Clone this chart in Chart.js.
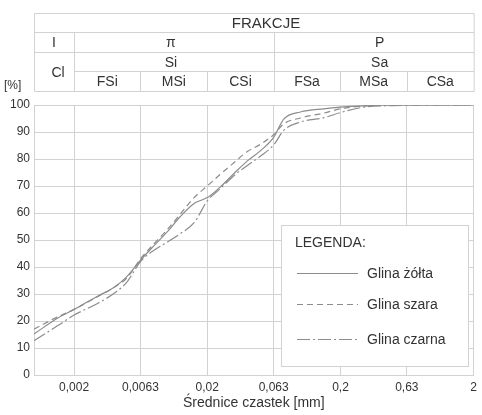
<!DOCTYPE html>
<html>
<head>
<meta charset="utf-8">
<script src="https://cdn.jsdelivr.net/npm/chart.js@4/dist/chart.umd.min.js"></script>
<style>
  html, body { margin: 0; padding: 0; background: #fff; }
  #wrap { width: 482px; height: 415px; }
</style>
</head>
<body>
<div id="wrap"><canvas id="chartUziarnienie"></canvas></div>
<script>
// srednice [mm]
var srednice = [0.001, 0.0015, 0.002, 0.003, 0.004, 0.005, 0.0063, 0.008, 0.01, 0.0125, 0.016, 0.02,
                0.025, 0.032, 0.04, 0.05, 0.063, 0.075, 0.1, 0.15, 0.2, 0.3, 0.5, 1, 2];

// przechodzi [%]
var glinaZolta  = [15.2, 21, 24.3, 29.2, 32.5, 36.5, 42.5, 48, 53, 58.6, 63.6, 65.7,
                   69.6, 74.8, 79.3, 83, 88, 94.8, 97.4, 98.6, 99.2, 99.7, 100, 100, 100];
var glinaSzara  = [17, 21.5, 24.3, 29, 32.5, 36, 43, 48.7, 53.8, 59.5, 65.8, 70,
                   74.3, 78.8, 82.8, 85.4, 89, 93, 95.2, 97, 98.6, 99.6, 100, 100, 100];
var glinaCzarna = [12.7, 18.2, 22.2, 26.5, 30.3, 34.5, 42, 46.3, 49.2, 52.3, 56.5, 64.5,
                   69, 74, 77.6, 81, 85.2, 90.6, 93.7, 95.3, 97.2, 99.2, 99.8, 100, 100];

var nazwy = ["Glina żółta", "Glina szara", "Glina czarna"];

var osXTicks = [0.002, 0.0063, 0.02, 0.063, 0.2, 0.63, 2];
var osYTicks = [0, 10, 20, 30, 40, 50, 60, 70, 80, 90, 100];

// tabela frakcji
var frakcjeTytul = "FRAKCJE";
var frakcjeGlowne = ["I", "π", "P"];
var frakcjeSrednie = ["Cl", "Si", "Sa"];
var frakcjeDrobne = ["FSi", "MSi", "CSi", "FSa", "MSa", "CSa"];
var granice = [0.001, 0.002, 0.0063, 0.02, 0.063, 0.2, 0.63, 2];

function punkty(wartosci) {
    return srednice.map(function (d, i) { return { x: d, y: wartosci[i] }; });
}

var kolorTekstu = '#333';
var kolorSiatki = '#d2d2d2';
var czcionka = "'Liberation Sans', Arial, sans-serif";

var tabelaPlugin = {
    id: 'tabela',
    afterDraw: function (chart) {
        var c = chart.ctx;
        var sx = chart.scales.x;
        var px = function (v) { return Math.round(sx.getPixelForValue(v)) + 0.5; };
        var L = chart.chartArea.left + 0.5, R = chart.chartArea.right + 0.5;
        var y0 = 13.5, y1 = 32.5, y2 = 52.5, y3 = 71.5, y4 = 91.5;

        c.save();
        c.strokeStyle = kolorSiatki;
        c.lineWidth = 1;
        c.beginPath();
        c.rect(L, y0, R - L, y4 - y0);
        c.moveTo(L, y1); c.lineTo(R, y1);
        c.moveTo(L, y2); c.lineTo(R, y2);
        c.moveTo(px(granice[1]), y3); c.lineTo(R, y3);
        c.moveTo(px(granice[1]), y1); c.lineTo(px(granice[1]), y4);
        c.moveTo(px(granice[4]), y1); c.lineTo(px(granice[4]), y4);
        [2, 3, 5, 6].forEach(function (k) {
            c.moveTo(px(granice[k]), y3); c.lineTo(px(granice[k]), y4);
        });
        c.stroke();

        c.fillStyle = kolorTekstu;
        c.textAlign = 'center';
        c.textBaseline = 'middle';
        c.font = "15px " + czcionka;
        c.fillText(frakcjeTytul, 266, (y0 + y1) / 2 + 1);

        c.font = "14px " + czcionka;
        var xa = sx.getPixelForValue(granice[0]), xb = sx.getPixelForValue(granice[1]),
            xc = sx.getPixelForValue(granice[4]), xd = sx.getPixelForValue(granice[7]);
        var srodki = [(xa + xb) / 2, (xb + xc) / 2 - 3, (xc + xd) / 2 + 6];
        c.fillText(frakcjeGlowne[0], srodki[0], (y1 + y2) / 2 + 1);
        c.fillText(frakcjeGlowne[1], srodki[1], (y1 + y2) / 2 + 1);
        c.fillText(frakcjeGlowne[2], srodki[2], (y1 + y2) / 2 + 1);
        c.fillText(frakcjeSrednie[0], srodki[0] + 4, (y2 + y4) / 2 + 1);
        c.fillText(frakcjeSrednie[1], srodki[1], (y2 + y3) / 2 + 1);
        c.fillText(frakcjeSrednie[2], srodki[2], (y2 + y3) / 2 + 1);
        for (var i = 0; i < frakcjeDrobne.length; i++) {
            var a = sx.getPixelForValue(granice[i + 1]), b = sx.getPixelForValue(granice[i + 2]);
            c.fillText(frakcjeDrobne[i], (a + b) / 2, (y3 + y4) / 2 + 1);
        }

        c.font = "12px " + czcionka;
        c.textAlign = 'left';
        c.fillText("[%]", 4, 86);

        // legenda
        var lx = 281.5, ly = 225.5, lw = 187, lh = 141;
        c.fillStyle = '#fff';
        c.fillRect(lx, ly, lw, lh);
        c.strokeStyle = kolorSiatki;
        c.strokeRect(lx, ly, lw, lh);
        c.fillStyle = kolorTekstu;
        c.font = "14px " + czcionka;
        c.textAlign = 'left';
        c.fillText("LEGENDA:", 295, 243);
        var wiersze = [273, 304, 339];
        chart.data.datasets.forEach(function (ds, i) {
            c.save();
            c.strokeStyle = ds.borderColor;
            c.lineWidth = ds.borderWidth;
            c.setLineDash(ds.borderDash || []);
            c.beginPath();
            c.moveTo(297, wiersze[i] + 0.5);
            c.lineTo(358, wiersze[i] + 0.5);
            c.stroke();
            c.restore();
            c.fillText(ds.label, 367, wiersze[i] + 1);
        });
        c.restore();
    }
};

var ctx = document.getElementById('chartUziarnienie').getContext('2d');

var chart = new Chart(ctx, {
    type: 'line',
    data: {
        datasets: [{
            label: nazwy[0],
            data: punkty(glinaZolta),
            borderColor: '#8c8c8c',
            borderWidth: 1.2,
            borderDash: []
        }, {
            label: nazwy[1],
            data: punkty(glinaSzara),
            borderColor: '#8c8c8c',
            borderWidth: 1.2,
            borderDash: [6, 4]
        }, {
            label: nazwy[2],
            data: punkty(glinaCzarna),
            borderColor: '#8c8c8c',
            borderWidth: 1.2,
            borderDash: [13, 3, 2, 3]
        }]
    },
    options: {
        responsive: true,
        maintainAspectRatio: false,
        animation: false,
        layout: { padding: { top: 105, right: 5, left: 0, bottom: 0 } },
        elements: {
            point: { radius: 0 },
            line: { cubicInterpolationMode: 'monotone', fill: false }
        },
        plugins: {
            legend: { display: false },
            tooltip: { enabled: false }
        },
        scales: {
            x: {
                type: 'logarithmic',
                min: 0.001,
                max: 2,
                afterBuildTicks: function (s) {
                    s.ticks = osXTicks.map(function (v) { return { value: v }; });
                },
                afterFit: function (s) { s.height = 40; },
                ticks: {
                    autoSkip: false,
                    maxRotation: 0,
                    padding: 5,
                    color: kolorTekstu,
                    font: { family: czcionka, size: 12 },
                    callback: function (v) { return String(v).replace('.', ','); }
                },
                grid: { color: kolorSiatki, drawTicks: false },
                border: { color: kolorSiatki },
                title: {
                    display: true,
                    text: 'Średnice czastek [mm]',
                    color: kolorTekstu,
                    font: { family: czcionka, size: 14 },
                    padding: { top: 0, bottom: 3 }
                }
            },
            y: {
                min: 0,
                max: 100,
                afterBuildTicks: function (s) {
                    s.ticks = osYTicks.map(function (v) { return { value: v }; });
                },
                afterFit: function (s) { s.width = 34; },
                ticks: {
                    padding: 4,
                    color: kolorTekstu,
                    font: { family: czcionka, size: 12 }
                },
                grid: { color: kolorSiatki, drawTicks: false },
                border: { color: kolorSiatki }
            }
        }
    },
    plugins: [tabelaPlugin]
});
</script>
</body>
</html>
